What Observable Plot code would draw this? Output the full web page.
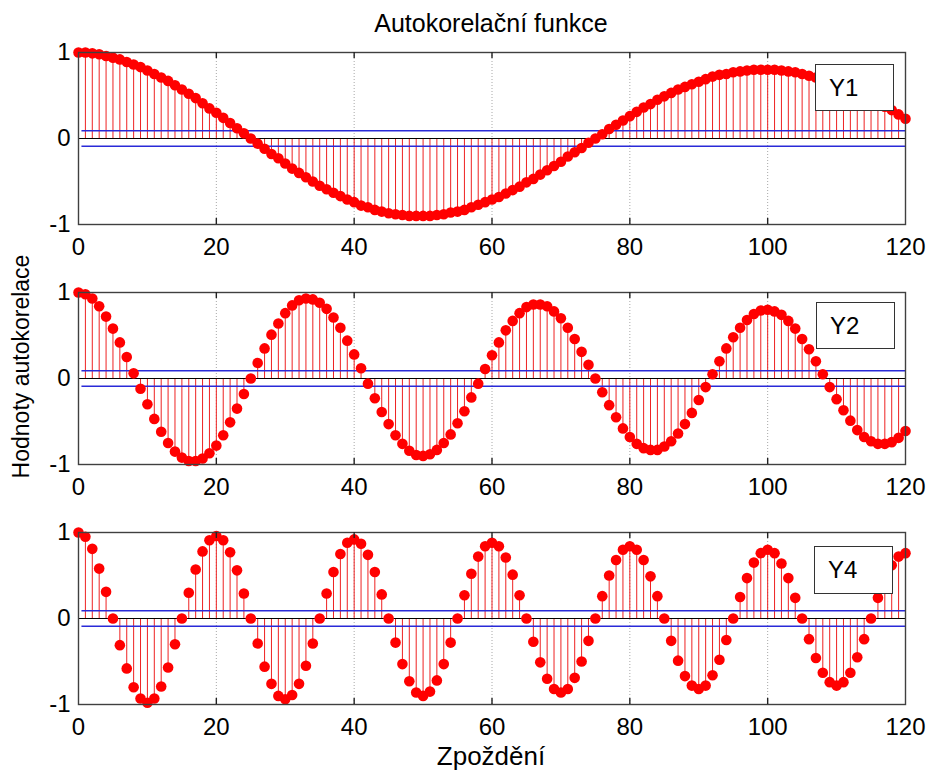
<!DOCTYPE html>
<html>
<head>
<meta charset="utf-8">
<script src="https://cdn.jsdelivr.net/npm/d3@7"></script>
<script src="https://cdn.jsdelivr.net/npm/@observablehq/plot@0.6"></script>
<style>
  html, body { margin: 0; padding: 0; background: white; }
  #fig { position: relative; width: 932px; height: 773px; background: white; overflow: hidden;
         font-family: 'Liberation Sans', Arial, Helvetica, sans-serif; color: black; }
  .txt { position: absolute; white-space: nowrap; line-height: 1; }
  .legend { position: absolute; background: white; border: 1px solid #333; box-sizing: border-box;
            font-size: 24px; line-height: 1; }
  .legend span { position: absolute; left: 13px; }
</style>
</head>
<body>
<div id="fig"></div>
<script>
// ---- Data ----
const titleText = "Autokorelační funkce";
const xLabelText = "Zpoždění";
const yLabelText = "Hodnoty autokorelace";
const seriesNames = ["Y1", "Y2", "Y4"];

const lags = d3.range(0, 121);
const xTicks = [0, 20, 40, 60, 80, 100, 120];
const yTicks = [-1, 0, 1];
const yTickLabels = ["-1", "0", "1"];
const confBound = 0.09;
const boundStart = 0.5;

const acfY1 = [
  1.00, 1.00, 0.99, 0.98, 0.96, 0.94, 0.92, 0.89, 0.86, 0.83,
  0.79, 0.75, 0.71, 0.67, 0.62, 0.57, 0.52, 0.47, 0.41, 0.35,
  0.30, 0.24, 0.18, 0.12, 0.06, 0.00, -0.06, -0.12, -0.18, -0.23,
  -0.29, -0.35, -0.40, -0.45, -0.50, -0.55, -0.59, -0.63, -0.67, -0.71,
  -0.74, -0.78, -0.80, -0.83, -0.85, -0.87, -0.88, -0.89, -0.90, -0.90,
  -0.90, -0.90, -0.89, -0.88, -0.86, -0.85, -0.83, -0.80, -0.77, -0.74,
  -0.71, -0.68, -0.64, -0.60, -0.56, -0.51, -0.47, -0.42, -0.37, -0.32,
  -0.27, -0.21, -0.16, -0.11, -0.05, 0.00, 0.05, 0.11, 0.16, 0.21,
  0.26, 0.31, 0.36, 0.40, 0.45, 0.49, 0.53, 0.57, 0.60, 0.63,
  0.66, 0.69, 0.72, 0.74, 0.75, 0.77, 0.78, 0.79, 0.80, 0.80,
  0.80, 0.80, 0.79, 0.78, 0.77, 0.75, 0.73, 0.71, 0.69, 0.66,
  0.63, 0.60, 0.57, 0.53, 0.49, 0.45, 0.41, 0.37, 0.33, 0.28,
  0.23
];

const acfY2 = [
  1.00, 0.98, 0.93, 0.84, 0.72, 0.58, 0.42, 0.25, 0.06, -0.12,
  -0.30, -0.47, -0.62, -0.75, -0.85, -0.92, -0.96, -0.96, -0.93, -0.87,
  -0.78, -0.66, -0.51, -0.35, -0.18, 0.00, 0.18, 0.35, 0.51, 0.64,
  0.76, 0.85, 0.91, 0.93, 0.92, 0.88, 0.81, 0.71, 0.59, 0.44,
  0.28, 0.12, -0.06, -0.23, -0.39, -0.53, -0.66, -0.76, -0.84, -0.89,
  -0.90, -0.88, -0.83, -0.75, -0.65, -0.52, -0.38, -0.22, -0.06, 0.11,
  0.27, 0.42, 0.56, 0.67, 0.76, 0.83, 0.86, 0.86, 0.84, 0.78,
  0.70, 0.59, 0.46, 0.31, 0.16, 0.00, -0.16, -0.31, -0.45, -0.58,
  -0.68, -0.76, -0.81, -0.83, -0.83, -0.79, -0.73, -0.64, -0.53, -0.40,
  -0.25, -0.10, 0.05, 0.20, 0.35, 0.48, 0.59, 0.68, 0.75, 0.79,
  0.80, 0.78, 0.74, 0.67, 0.58, 0.46, 0.34, 0.20, 0.05, -0.10,
  -0.24, -0.37, -0.49, -0.60, -0.68, -0.73, -0.76, -0.76, -0.74, -0.69,
  -0.61
];

const acfY4 = [
  1.00, 0.95, 0.81, 0.58, 0.31, 0.00, -0.31, -0.58, -0.80, -0.93,
  -0.98, -0.93, -0.79, -0.57, -0.30, 0.00, 0.30, 0.57, 0.78, 0.91,
  0.96, 0.91, 0.77, 0.56, 0.29, 0.00, -0.29, -0.56, -0.76, -0.90,
  -0.94, -0.89, -0.76, -0.55, -0.29, 0.00, 0.29, 0.54, 0.75, 0.88,
  0.92, 0.87, 0.74, 0.54, 0.28, 0.00, -0.28, -0.53, -0.73, -0.86,
  -0.90, -0.85, -0.72, -0.53, -0.28, 0.00, 0.27, 0.52, 0.72, 0.84,
  0.88, 0.84, 0.71, 0.51, 0.27, 0.00, -0.27, -0.51, -0.70, -0.82,
  -0.86, -0.82, -0.69, -0.50, -0.26, 0.00, 0.26, 0.50, 0.68, 0.80,
  0.84, 0.80, 0.68, 0.49, 0.26, 0.00, -0.26, -0.49, -0.67, -0.78,
  -0.82, -0.78, -0.66, -0.48, -0.25, 0.00, 0.25, 0.47, 0.65, 0.76,
  0.80, 0.76, 0.64, 0.47, 0.24, 0.00, -0.24, -0.46, -0.63, -0.74,
  -0.78, -0.74, -0.63, -0.45, -0.24, 0.00, 0.24, 0.45, 0.62, 0.72,
  0.76
];

const seriesValues = [acfY1, acfY2, acfY4];

// ---- Layout ----
const fig = document.getElementById("fig");
const W = 932;
const mTop = 52, mBottom = 40, mLeft = 78, mRight = 27;
const frameH = 172;
const panelTops = [0, 240, 480];
const legendBoxes = [
  {left: 815, top: 64, width: 79, height: 47},
  {left: 816, top: 302, width: 79, height: 47},
  {left: 814, top: 546, width: 79, height: 48}
];
const tickLen = 6;

seriesValues.forEach((vals, i) => {
  const data = lags.map((lag, j) => ({lag, r: vals[j]}));
  const chart = Plot.plot({
    width: W,
    height: mTop + frameH + mBottom,
    marginTop: mTop, marginBottom: mBottom, marginLeft: mLeft, marginRight: mRight,
    style: {background: "transparent", fontFamily: "'Liberation Sans', Arial, sans-serif", fontSize: "24px", color: "black", overflow: "visible"},
    x: {domain: [0, 120], label: null},
    y: {domain: [-1, 1], label: null},
    marks: [
      Plot.ruleX(xTicks.slice(1, -1), {stroke: "#a8a8a8", strokeWidth: 1, strokeDasharray: "1,2"}),
      Plot.ruleX(data, {x: "lag", y1: 0, y2: "r", stroke: "#ee2222", strokeWidth: 1}),
      Plot.ruleY([0], {stroke: "black", strokeWidth: 1.2}),
      Plot.ruleY([confBound, -confBound], {x1: boundStart, x2: 120, stroke: "#2a2ad8", strokeWidth: 1.3}),
      Plot.dot(data, {x: "lag", y: "r", r: 5.3, fill: "#ff0000", stroke: "none"}),
      Plot.frame({stroke: "#404040", strokeWidth: 1.4}),
      Plot.ruleX(xTicks.slice(1, -1), {insetTop: frameH - tickLen, stroke: "#222", strokeWidth: 1.4}),
      Plot.ruleX(xTicks.slice(1, -1), {insetBottom: frameH - tickLen, stroke: "#222", strokeWidth: 1.4}),
      Plot.axisX({ticks: xTicks, tickSize: 0, tickPadding: 13, label: null, tickFormat: d => String(d), fontSize: 24}),
      Plot.axisY({ticks: yTicks, tickSize: 0, tickPadding: 8, label: null, tickFormat: d => yTickLabels[yTicks.indexOf(d)], fontSize: 24})
    ]
  });
  chart.style.position = "absolute";
  chart.style.left = "0px";
  chart.style.top = panelTops[i] + "px";
  fig.appendChild(chart);

  const lb = legendBoxes[i];
  const box = document.createElement("div");
  box.className = "legend";
  box.style.left = lb.left + "px";
  box.style.top = lb.top + "px";
  box.style.width = lb.width + "px";
  box.style.height = lb.height + "px";
  const sp = document.createElement("span");
  sp.textContent = seriesNames[i];
  sp.style.top = "11px";
  box.appendChild(sp);
  fig.appendChild(box);
});

// Title
const title = document.createElement("div");
title.className = "txt";
title.textContent = titleText;
title.style.fontSize = "25px";
title.style.left = "0px";
title.style.width = "982px";
title.style.textAlign = "center";
title.style.top = "11px";
fig.appendChild(title);

// X label
const xl = document.createElement("div");
xl.className = "txt";
xl.textContent = xLabelText;
xl.style.fontSize = "26px";
xl.style.left = "0px";
xl.style.width = "982px";
xl.style.textAlign = "center";
xl.style.top = "743px";
fig.appendChild(xl);

// Y label
const yl = document.createElement("div");
yl.className = "txt";
yl.textContent = yLabelText;
yl.style.fontSize = "23px";
yl.style.width = "300px";
yl.style.height = "23px";
yl.style.textAlign = "center";
yl.style.left = (21 - 150) + "px";
yl.style.top = (366 - 11.5) + "px";
yl.style.transform = "rotate(-90deg)";
yl.style.transformOrigin = "50% 50%";
fig.appendChild(yl);
</script>
</body>
</html>
